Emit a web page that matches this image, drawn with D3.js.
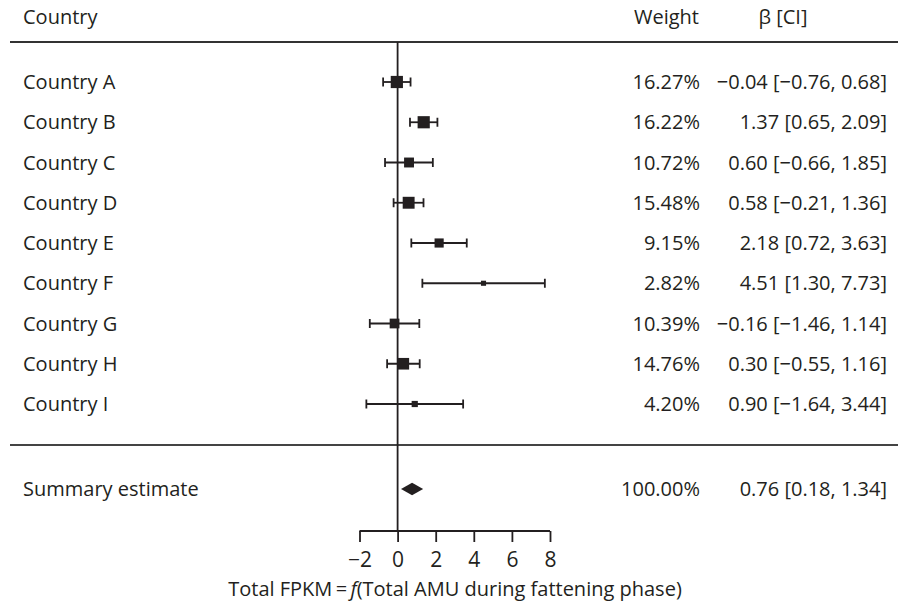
<!DOCTYPE html>
<html><head><meta charset="utf-8">
<script src="https://cdn.jsdelivr.net/npm/d3@7"></script>
<style>
html,body{margin:0;padding:0;background:#fff;}
svg text{font-family:"Open Sans","Noto Sans",sans-serif;fill:#231f20;}
</style></head>
<body><svg id="chart" width="901" height="603"></svg>
<script>
const countries = ["Country A","Country B","Country C","Country D","Country E","Country F","Country G","Country H","Country I"];
const beta  = [-0.04, 1.37, 0.60, 0.58, 2.18, 4.51, -0.16, 0.30, 0.90];
const lower = [-0.76, 0.65, -0.66, -0.21, 0.72, 1.30, -1.46, -0.55, -1.64];
const upper = [0.68, 2.09, 1.85, 1.36, 3.63, 7.73, 1.14, 1.16, 3.44];
const weights = [16.27, 16.22, 10.72, 15.48, 9.15, 2.82, 10.39, 14.76, 4.20];
const summary = {label:"Summary estimate", beta:0.76, lower:0.18, upper:1.34, weight:100.00};
const xTicks = [-2, 0, 2, 4, 6, 8];
const xTitle = ["Total FPKM\u2009=\u2009", "f", "(Total AMU during fattening phase)"];

const svg = d3.select("#chart");
const ink = "#231f20";
const fs = 20;

const x = d3.scaleLinear().domain([-2, 8]).range([359.5, 550]);
const y = d3.scalePoint().domain(countries).range([82, 404]);
const ySummary = 489;
const size = d3.scaleSqrt().domain([0, 16.27]).range([0, 12.2]);

const fmt2 = v => d3.format(".2f")(v).replace("-", "\u2212");

// header
svg.append("text").attr("x", 23).attr("y", 17).attr("dy", "0.35em").attr("font-size", fs).text("Country");
svg.append("text").attr("x", 699).attr("y", 17).attr("dy", "0.35em").attr("font-size", fs).attr("text-anchor", "end").text("Weight");
svg.append("text").attr("x", 783).attr("y", 17).attr("dy", "0.35em").attr("font-size", fs).attr("text-anchor", "middle").text("\u03b2 [CI]");

// separator lines
svg.append("line").attr("x1", 10).attr("x2", 898).attr("y1", 42).attr("y2", 42).attr("stroke", "#333").attr("stroke-width", 2.2);
svg.append("line").attr("x1", 10).attr("x2", 898).attr("y1", 445).attr("y2", 445).attr("stroke", "#444").attr("stroke-width", 2);

// zero line
svg.append("line").attr("x1", x(0)).attr("x2", x(0)).attr("y1", 42).attr("y2", 531).attr("stroke", ink).attr("stroke-width", 1.8);

// rows
const rows = countries.map((c, i) => ({c, b: beta[i], lo: lower[i], hi: upper[i], w: weights[i]}));
const g = svg.append("g");
rows.forEach(r => {
  const yy = y(r.c);
  g.append("line").attr("x1", x(r.lo)).attr("x2", x(r.hi)).attr("y1", yy).attr("y2", yy).attr("stroke", ink).attr("stroke-width", 1.8);
  [r.lo, r.hi].forEach(v => g.append("line").attr("x1", x(v)).attr("x2", x(v)).attr("y1", yy - 4.5).attr("y2", yy + 4.5).attr("stroke", ink).attr("stroke-width", 1.8));
  const s = Math.max(4.5, size(r.w));
  g.append("rect").attr("x", x(r.b) - s / 2).attr("y", yy - s / 2).attr("width", s).attr("height", s).attr("fill", ink);
  g.append("text").attr("x", 23).attr("y", yy).attr("dy", "0.35em").attr("font-size", fs).text(r.c);
  g.append("text").attr("x", 700).attr("y", yy).attr("dy", "0.35em").attr("font-size", fs).attr("text-anchor", "end").text(d3.format(".2f")(r.w) + "%");
  g.append("text").attr("x", 887).attr("y", yy).attr("dy", "0.35em").attr("font-size", fs).attr("text-anchor", "end")
    .text(`${fmt2(r.b)} [${fmt2(r.lo)}, ${fmt2(r.hi)}]`);
});

// summary
const dh = 6.2;
svg.append("path").attr("d", `M${x(summary.lower)},${ySummary} L${x(summary.beta)},${ySummary - dh} L${x(summary.upper)},${ySummary} L${x(summary.beta)},${ySummary + dh} Z`).attr("fill", ink);
svg.append("text").attr("x", 23).attr("y", ySummary).attr("dy", "0.35em").attr("font-size", fs).text(summary.label);
svg.append("text").attr("x", 700).attr("y", ySummary).attr("dy", "0.35em").attr("font-size", fs).attr("text-anchor", "end").text(d3.format(".2f")(summary.weight) + "%");
svg.append("text").attr("x", 887).attr("y", ySummary).attr("dy", "0.35em").attr("font-size", fs).attr("text-anchor", "end")
  .text(`${fmt2(summary.beta)} [${fmt2(summary.lower)}, ${fmt2(summary.upper)}]`);

// axis
const axis = d3.axisBottom(x).tickValues(xTicks).tickSize(11).tickPadding(10).tickFormat(d => String(d).replace("-", "\u2212"));
const ag = svg.append("g").attr("transform", "translate(0,531)").call(axis);
ag.select(".domain").attr("stroke", ink).attr("stroke-width", 1.8).attr("d", `M${x(-2)},0H${x(8)}`);
ag.selectAll(".tick line").attr("stroke", ink).attr("stroke-width", 1.8);
ag.selectAll(".tick text").attr("font-size", 21).attr("font-family", "'Open Sans','Noto Sans',sans-serif").attr("fill", ink);

// x title
const t = svg.append("text").attr("x", 455).attr("y", 589).attr("dy", "0.35em").attr("font-size", fs).attr("text-anchor", "middle");
t.append("tspan").text(xTitle[0]);
t.append("tspan").attr("font-style", "italic").text(xTitle[1]);
t.append("tspan").text(xTitle[2]);
</script></body></html>
